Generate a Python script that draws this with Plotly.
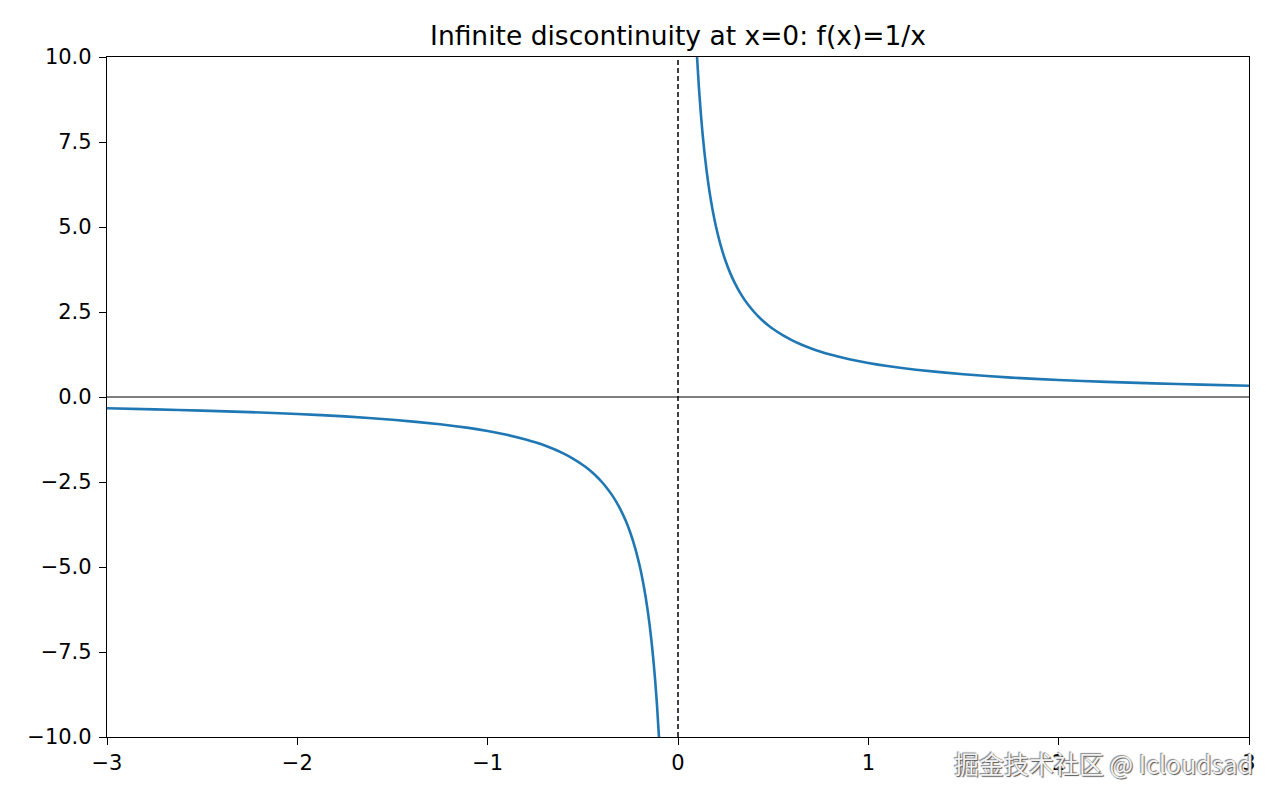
import plotly.graph_objects as go

# Values (f(x)=1/x branches)
x_left = [-3.0, -2.75, -2.5, -2.25, -2.0, -1.75, -1.5, -1.25, -1.1, -1.0, -0.9, -0.8, -0.75,
          -0.7, -0.65, -0.6, -0.55, -0.5, -0.475, -0.45, -0.425, -0.4, -0.375, -0.35, -0.325,
          -0.3, -0.275, -0.25, -0.225, -0.2, -0.19, -0.18, -0.17, -0.16, -0.15, -0.14, -0.13,
          -0.12, -0.11, -0.1]
y_left = [-0.333, -0.364, -0.4, -0.444, -0.5, -0.571, -0.667, -0.8, -0.909, -1.0, -1.111, -1.25, -1.333,
          -1.429, -1.538, -1.667, -1.818, -2.0, -2.105, -2.222, -2.353, -2.5, -2.667, -2.857, -3.077,
          -3.333, -3.636, -4.0, -4.444, -5.0, -5.263, -5.556, -5.882, -6.25, -6.667, -7.143, -7.692,
          -8.333, -9.091, -10.0]
x_right = [0.1, 0.11, 0.12, 0.13, 0.14, 0.15, 0.16, 0.17, 0.18, 0.19, 0.2, 0.225, 0.25, 0.275,
           0.3, 0.325, 0.35, 0.375, 0.4, 0.425, 0.45, 0.475, 0.5, 0.55, 0.6, 0.65, 0.7, 0.75,
           0.8, 0.9, 1.0, 1.1, 1.25, 1.5, 1.75, 2.0, 2.25, 2.5, 2.75, 3.0]
y_right = [10.0, 9.091, 8.333, 7.692, 7.143, 6.667, 6.25, 5.882, 5.556, 5.263, 5.0, 4.444, 4.0, 3.636,
           3.333, 3.077, 2.857, 2.667, 2.5, 2.353, 2.222, 2.105, 2.0, 1.818, 1.667, 1.538, 1.429, 1.333,
           1.25, 1.111, 1.0, 0.909, 0.8, 0.667, 0.571, 0.5, 0.444, 0.4, 0.364, 0.333]

x_ticks = [-3, -2, -1, 0, 1, 2, 3]
y_ticks = [-10.0, -7.5, -5.0, -2.5, 0.0, 2.5, 5.0, 7.5, 10.0]
title_text = "Infinite discontinuity at x=0: f(x)=1/x"
watermark = "掘金技术社区 @ Icloudsad"

FONT = "DejaVu Sans"
BLUE = "#1f77b4"

fig = go.Figure()
fig.add_trace(go.Scatter(x=x_left, y=y_left, mode="lines",
                         line=dict(color=BLUE, width=2.6, shape="spline", smoothing=0.5),
                         showlegend=False))
fig.add_trace(go.Scatter(x=x_right, y=y_right, mode="lines",
                         line=dict(color=BLUE, width=2.6, shape="spline", smoothing=0.5),
                         showlegend=False))

# horizontal y=0 line and dashed vertical x=0 line
fig.add_hline(y=0, line=dict(color="black", width=1.1))
fig.add_vline(x=0, line=dict(color="black", width=1.5, dash="5px,3px"))

fig.update_layout(
    width=1280, height=800,
    paper_bgcolor="white", plot_bgcolor="white",
    margin=dict(l=99, r=39, t=49, b=71),
    font=dict(family=FONT, color="black", size=21),
    title=dict(text=title_text, x=0.5, xref="paper", xanchor="center",
               y=1, yref="paper", yanchor="bottom", pad=dict(b=12),
               font=dict(family=FONT, size=26.5, color="black")),
    showlegend=False,
)
fig.update_xaxes(range=[-3, 3], tickvals=x_ticks, ticks="outside", ticklen=7, tickwidth=1.3,
                 tickcolor="black", showline=True, linecolor="black", linewidth=1.3,
                 mirror=True, showgrid=False, zeroline=False,
                 tickfont=dict(family=FONT, size=21, color="black"))
fig.update_yaxes(range=[-10, 10], tickvals=y_ticks, tickformat=".1f", ticks="outside",
                 ticklen=7, tickwidth=1.3, tickcolor="black", showline=True,
                 linecolor="black", linewidth=1.3, mirror=True, showgrid=False,
                 zeroline=False, ticklabelstandoff=3,
                 tickfont=dict(family=FONT, size=21, color="black"))

fig.add_annotation(text=watermark, xref="paper", yref="paper", x=1.0053, y=-0.038,
                   xanchor="right", yanchor="middle", showarrow=False,
                   font=dict(family="Noto Sans CJK SC", size=25, color="#f2f2f2",
                             shadow="1px 1px 1px #555, -1px -1px 1px #888"))

fig.write_html("out.html")
